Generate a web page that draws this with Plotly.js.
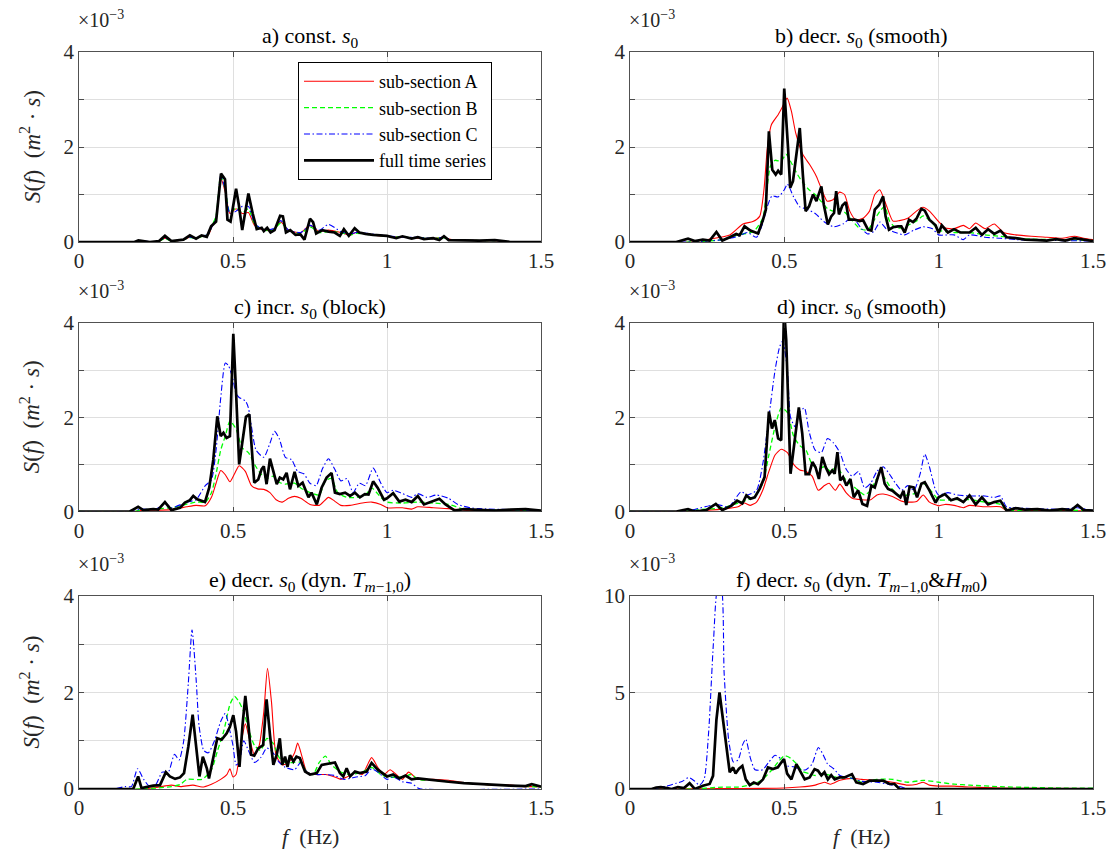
<!DOCTYPE html>
<html><head><meta charset="utf-8">
<script src="https://cdn.plot.ly/plotly-3.0.1.min.js"></script>
<style>html,body{margin:0;padding:0;background:#fff}#chart{width:1110px;height:852px}</style>
</head><body><div id="chart"></div>
<script>
// ---------------- data (f in Hz, S in 1e-3 m^2 s) ----------------
// panel a
const fa_sub = [0,0.18,0.2,0.23,0.26,0.28,0.3,0.34,0.36,0.38,0.4,0.42,0.43,0.445,0.46,0.475,0.49,0.51,0.53,0.55,0.57,0.6,0.63,0.655,0.68,0.72,0.75,0.78,0.81,0.85,0.88,0.9,0.95,1.0,1.05,1.1,1.15,1.18,1.21,1.25,1.3,1.35,1.38,1.4,1.5];
const Sa_A = [0,0,0.02,0.0,0.02,0.08,0.02,0.05,0.1,0.08,0.12,0.15,0.3,0.5,1.35,1.05,0.6,0.7,0.6,0.62,0.35,0.25,0.25,0.42,0.25,0.2,0.35,0.22,0.25,0.2,0.15,0.2,0.15,0.12,0.1,0.08,0.07,0.1,0.05,0.04,0.03,0.03,0.02,0,0];
const Sa_B = [0,0,0.02,0.0,0.02,0.07,0.02,0.05,0.09,0.08,0.12,0.16,0.32,0.55,1.4,1.1,0.62,0.72,0.62,0.7,0.38,0.25,0.25,0.4,0.25,0.18,0.32,0.2,0.22,0.2,0.15,0.18,0.15,0.12,0.1,0.09,0.07,0.09,0.05,0.04,0.03,0.03,0.02,0,0];
const Sa_C = [0,0,0.02,0.01,0.02,0.09,0.02,0.05,0.1,0.08,0.13,0.16,0.3,0.5,1.4,1.1,0.6,0.65,0.75,0.75,0.4,0.25,0.28,0.45,0.25,0.2,0.35,0.25,0.37,0.22,0.17,0.2,0.17,0.13,0.1,0.1,0.07,0.1,0.05,0.04,0.03,0.03,0.02,0,0];
const fa_F = [0,0.18,0.193,0.23,0.26,0.279,0.3,0.339,0.36,0.38,0.398,0.415,0.429,0.445,0.461,0.474,0.482,0.492,0.51,0.519,0.53,0.55,0.564,0.577,0.593,0.6,0.611,0.622,0.635,0.653,0.662,0.672,0.686,0.703,0.719,0.732,0.75,0.76,0.77,0.79,0.81,0.83,0.847,0.86,0.876,0.895,0.91,0.93,0.955,0.98,1.0,1.03,1.05,1.08,1.1,1.12,1.15,1.17,1.185,1.2,1.25,1.3,1.35,1.38,1.4,1.5];
const Sa_F = [0,0,0.035,0,0.02,0.13,0.02,0.05,0.14,0.07,0.14,0.11,0.33,0.43,1.44,1.32,0.47,0.43,1.12,0.78,0.25,1.02,0.6,0.27,0.3,0.23,0.3,0.2,0.25,0.55,0.54,0.2,0.25,0.15,0.16,0.05,0.49,0.42,0.18,0.25,0.22,0.2,0.13,0.27,0.13,0.29,0.2,0.17,0.15,0.14,0.13,0.08,0.12,0.07,0.1,0.06,0.08,0.04,0.12,0.04,0.03,0.03,0.04,0.02,0,0];

// panel b
const fb_A = [0,0.2,0.247,0.323,0.366,0.398,0.42,0.434,0.445,0.458,0.48,0.492,0.509,0.523,0.537,0.56,0.582,0.604,0.623,0.639,0.658,0.679,0.695,0.712,0.731,0.755,0.776,0.793,0.809,0.83,0.852,0.873,0.9,0.928,0.949,0.97,1.0,1.02,1.05,1.08,1.1,1.12,1.15,1.18,1.21,1.25,1.3,1.35,1.4,1.44,1.47,1.5];
const Sb_A = [0,0,0.05,0.15,0.38,0.43,0.54,1.1,1.98,2.47,2.68,2.82,3.03,2.75,2.29,1.84,1.63,1.38,1.07,0.86,0.89,1.05,1.0,0.65,0.47,0.5,0.65,1.0,1.1,0.78,0.44,0.45,0.5,0.65,0.73,0.65,0.43,0.3,0.28,0.35,0.28,0.4,0.28,0.38,0.2,0.15,0.12,0.1,0.08,0.12,0.08,0.05];
const fb_B = [0,0.2,0.3,0.35,0.4,0.43,0.445,0.455,0.47,0.49,0.505,0.52,0.54,0.56,0.58,0.6,0.62,0.64,0.66,0.68,0.7,0.72,0.745,0.77,0.79,0.81,0.825,0.84,0.86,0.88,0.9,0.93,0.95,0.98,1.0,1.05,1.1,1.15,1.2,1.25,1.3,1.4,1.5];
const Sb_B = [0,0,0.05,0.15,0.22,0.5,1.2,1.6,1.72,1.7,1.85,1.7,1.45,1.25,1.1,1.0,0.85,0.7,0.65,0.7,0.6,0.45,0.28,0.25,0.45,0.65,0.75,0.45,0.3,0.3,0.35,0.45,0.55,0.4,0.25,0.2,0.2,0.15,0.12,0.08,0.06,0.05,0.03];
const fb_C = [0,0.2,0.25,0.3,0.35,0.38,0.41,0.43,0.445,0.46,0.48,0.5,0.51,0.53,0.55,0.57,0.6,0.63,0.66,0.69,0.71,0.73,0.75,0.77,0.79,0.81,0.83,0.86,0.89,0.92,0.95,0.98,1.0,1.05,1.08,1.1,1.15,1.2,1.25,1.3,1.4,1.5];
const Sb_C = [0,0,0.02,0.05,0.12,0.2,0.1,0.4,0.75,0.97,0.95,1.1,1.22,0.95,0.74,0.7,0.6,0.42,0.32,0.38,0.48,0.45,0.28,0.17,0.22,0.42,0.28,0.2,0.15,0.25,0.32,0.28,0.15,0.15,0.05,0.15,0.1,0.08,0.05,0.04,0.03,0.02];
const fb_F = [0,0.15,0.188,0.21,0.236,0.258,0.28,0.299,0.323,0.344,0.355,0.371,0.39,0.415,0.431,0.44,0.45,0.461,0.472,0.48,0.49,0.4997,0.512,0.519,0.528,0.55,0.56,0.569,0.58,0.593,0.604,0.62,0.628,0.641,0.652,0.661,0.668,0.677,0.688,0.699,0.709,0.728,0.744,0.755,0.771,0.782,0.793,0.807,0.82,0.828,0.839,0.852,0.868,0.879,0.89,0.904,0.917,0.928,0.944,0.955,0.97,0.99,1.0,1.01,1.03,1.05,1.07,1.1,1.12,1.14,1.16,1.18,1.2,1.22,1.25,1.28,1.32,1.35,1.38,1.41,1.44,1.47,1.5];
const Sb_F = [0,0,0.07,0.02,0.05,0.03,0.21,0.03,0.1,0.17,0.14,0.33,0.24,0.18,0.47,0.68,2.33,1.52,1.42,1.5,1.42,3.23,1.98,1.14,1.28,2.4,1.42,0.65,0.75,1.0,0.86,1.17,0.78,0.37,0.54,0.61,1.07,0.58,0.77,0.84,0.47,0.47,0.44,0.46,0.26,0.24,0.68,0.78,0.96,0.54,0.26,0.31,0.33,0.33,0.2,0.47,0.42,0.49,0.7,0.66,0.47,0.35,0.19,0.35,0.2,0.27,0.2,0.2,0.3,0.15,0.27,0.17,0.24,0.1,0.08,0.05,0.04,0.03,0.06,0.03,0.08,0.05,0.02];

// panel c
const fc_A = [0,0.18,0.2,0.3,0.35,0.38,0.41,0.43,0.445,0.46,0.475,0.49,0.505,0.52,0.54,0.56,0.58,0.6,0.62,0.64,0.66,0.68,0.7,0.72,0.75,0.78,0.81,0.83,0.85,0.88,0.92,0.95,0.98,1.0,1.05,1.08,1.1,1.15,1.2,1.25,1.3,1.5];
const Sc_A = [0,0,0.02,0.04,0.1,0.13,0.12,0.3,0.6,0.87,0.78,0.63,0.8,0.97,0.85,0.55,0.48,0.47,0.4,0.25,0.2,0.28,0.32,0.28,0.15,0.13,0.3,0.22,0.13,0.13,0.18,0.2,0.15,0.08,0.08,0.05,0.1,0.08,0.06,0.03,0.02,0.02];
const fc_B = [0,0.18,0.2,0.3,0.38,0.41,0.43,0.445,0.46,0.475,0.49,0.51,0.53,0.55,0.57,0.59,0.61,0.63,0.65,0.67,0.7,0.72,0.75,0.78,0.8,0.82,0.84,0.87,0.9,0.93,0.95,0.98,1.0,1.05,1.1,1.15,1.2,1.25,1.3,1.4,1.5];
const Sc_B = [0,0,0.03,0.08,0.2,0.2,0.4,0.8,1.3,1.6,1.92,1.75,1.35,1.25,1.0,0.8,0.7,0.75,0.62,0.58,0.6,0.5,0.4,0.35,0.65,0.7,0.4,0.3,0.3,0.35,0.5,0.3,0.2,0.18,0.2,0.18,0.15,0.05,0.04,0.03,0.02];
const fc_C = [0,0.17,0.2,0.25,0.28,0.3,0.35,0.38,0.41,0.43,0.445,0.46,0.475,0.485,0.5,0.51,0.52,0.54,0.55,0.56,0.575,0.6,0.62,0.635,0.65,0.67,0.69,0.71,0.73,0.75,0.77,0.79,0.81,0.83,0.85,0.87,0.89,0.91,0.93,0.955,0.98,1.0,1.02,1.05,1.08,1.1,1.13,1.16,1.2,1.23,1.27,1.3,1.4,1.5];
const Sc_C = [0,0,0.05,0.05,0.18,0.08,0.2,0.25,0.55,0.67,1.3,2.4,3.15,3.1,2.8,2.5,2.42,2.35,2.2,1.8,1.3,1.15,1.45,1.7,1.55,1.15,1.1,0.85,0.8,0.6,0.55,0.9,1.12,0.9,0.65,0.7,0.4,0.6,0.55,0.92,0.6,0.4,0.45,0.38,0.3,0.38,0.3,0.35,0.28,0.15,0.08,0.06,0.04,0.02];
const fc_F = [0,0.165,0.192,0.209,0.241,0.257,0.279,0.3,0.328,0.344,0.36,0.371,0.384,0.409,0.423,0.436,0.449,0.46,0.469,0.479,0.49,0.501,0.51,0.52,0.531,0.542,0.553,0.56,0.569,0.582,0.593,0.6,0.609,0.62,0.631,0.642,0.652,0.663,0.674,0.685,0.7,0.712,0.726,0.745,0.755,0.772,0.788,0.804,0.82,0.831,0.847,0.864,0.88,0.896,0.912,0.928,0.94,0.955,0.97,0.99,1.0,1.02,1.04,1.06,1.08,1.1,1.12,1.15,1.17,1.19,1.22,1.25,1.3,1.35,1.4,1.45,1.5];
const Sc_F = [0,0,0.1,0.03,0.05,0.04,0.2,0.03,0.08,0.19,0.24,0.33,0.26,0.2,0.51,1.1,2.02,1.6,1.67,1.56,1.6,3.77,2.52,1.0,1.5,2.01,2.06,1.32,0.61,0.68,0.9,0.96,0.58,1.12,0.86,0.58,0.72,0.68,0.82,0.47,0.84,0.54,0.61,0.3,0.4,0.15,0.51,0.72,0.82,0.4,0.37,0.4,0.33,0.4,0.3,0.37,0.36,0.64,0.5,0.25,0.28,0.39,0.21,0.25,0.2,0.33,0.15,0.22,0.27,0.15,0.02,0.05,0.04,0.02,0.04,0.05,0.02];

// panel d
const fd_A = [0,0.18,0.2,0.3,0.35,0.37,0.39,0.41,0.43,0.45,0.47,0.49,0.51,0.53,0.55,0.57,0.59,0.61,0.63,0.645,0.665,0.68,0.7,0.72,0.75,0.78,0.8,0.82,0.85,0.88,0.9,0.93,0.95,0.97,1.0,1.02,1.05,1.08,1.1,1.15,1.2,1.22,1.3,1.4,1.5];
const Sd_A = [0,0,0.01,0.05,0.1,0.18,0.13,0.2,0.45,0.85,1.2,1.32,1.25,1.0,0.88,0.85,0.75,0.45,0.55,0.6,0.45,0.58,0.4,0.28,0.25,0.25,0.35,0.37,0.32,0.22,0.2,0.22,0.35,0.2,0.12,0.15,0.13,0.08,0.13,0.1,0.1,0.02,0.02,0.02,0.01];
const fd_B = [0,0.18,0.2,0.3,0.36,0.4,0.43,0.45,0.47,0.49,0.51,0.53,0.55,0.57,0.59,0.61,0.63,0.65,0.67,0.69,0.71,0.73,0.76,0.78,0.8,0.82,0.84,0.87,0.9,0.93,0.95,0.98,1.0,1.05,1.1,1.15,1.2,1.22,1.3,1.4,1.5];
const Sd_B = [0,0,0.03,0.08,0.2,0.3,0.6,1.2,1.8,2.2,2.1,1.6,1.4,1.3,1.0,0.9,0.95,0.85,0.95,0.75,0.6,0.5,0.35,0.45,0.7,0.75,0.55,0.35,0.35,0.4,0.6,0.4,0.25,0.25,0.25,0.2,0.15,0.03,0.03,0.03,0.02];
const fd_C = [0,0.17,0.2,0.28,0.32,0.36,0.38,0.41,0.43,0.45,0.47,0.485,0.495,0.51,0.52,0.535,0.55,0.565,0.58,0.6,0.62,0.64,0.66,0.68,0.7,0.72,0.74,0.76,0.78,0.8,0.82,0.84,0.86,0.88,0.9,0.92,0.94,0.955,0.97,0.99,1.0,1.03,1.06,1.1,1.15,1.18,1.2,1.22,1.25,1.3,1.4,1.45,1.5];
const Sd_C = [0,0,0.03,0.15,0.1,0.42,0.35,0.45,1.0,2.0,3.0,3.5,3.62,3.0,2.0,1.8,2.1,2.2,1.7,1.3,1.25,1.55,1.45,1.25,0.9,0.75,0.85,0.5,0.6,0.85,0.95,0.8,0.6,0.45,0.55,0.45,0.8,1.22,0.95,0.45,0.35,0.4,0.35,0.33,0.33,0.3,0.33,0.1,0.08,0.06,0.05,0.08,0.02];
const fd_F = [0,0.15,0.188,0.21,0.247,0.278,0.299,0.328,0.347,0.364,0.377,0.39,0.404,0.42,0.436,0.45,0.46,0.469,0.48,0.49,0.499,0.506,0.52,0.53,0.547,0.558,0.569,0.58,0.591,0.601,0.612,0.623,0.634,0.645,0.655,0.663,0.672,0.681,0.69,0.701,0.714,0.725,0.739,0.753,0.768,0.782,0.793,0.803,0.814,0.825,0.836,0.85,0.863,0.876,0.886,0.895,0.906,0.919,0.93,0.944,0.955,0.97,0.99,1.0,1.02,1.04,1.06,1.08,1.1,1.12,1.14,1.16,1.18,1.2,1.22,1.25,1.28,1.32,1.36,1.4,1.43,1.45,1.47,1.5];
const Sd_F = [0,0,0.05,0,0.03,0.16,0.03,0.12,0.23,0.17,0.34,0.27,0.3,0.48,0.73,2.12,1.76,1.94,1.55,1.51,4.3,3.65,0.8,1.37,2.21,1.66,0.79,0.79,1.05,0.94,0.69,1.16,0.94,0.79,0.87,0.8,1.26,0.66,0.73,0.55,0.69,0.3,0.45,0.16,0.12,0.55,0.51,0.73,0.94,0.59,0.48,0.44,0.37,0.3,0.44,0.14,0.53,0.51,0.3,0.59,0.62,0.45,0.19,0.3,0.37,0.24,0.28,0.2,0.34,0.15,0.3,0.15,0.2,0.23,0.02,0.07,0.04,0.05,0.02,0.05,0.03,0.14,0.03,0.02];

// panel e
const fe_A = [0,0.2,0.25,0.3,0.33,0.37,0.4,0.43,0.46,0.48,0.49,0.5,0.51,0.525,0.54,0.555,0.57,0.585,0.6,0.612,0.625,0.64,0.66,0.68,0.7,0.71,0.725,0.74,0.77,0.8,0.83,0.85,0.87,0.9,0.92,0.95,0.97,0.99,1.01,1.03,1.05,1.07,1.1,1.15,1.2,1.25,1.3,1.35,1.4,1.45,1.5];
const Se_A = [0,0,0.03,0.08,0.05,0.08,0.04,0.1,0.2,0.3,0.42,0.25,0.3,0.9,1.35,1.0,0.7,0.9,1.6,2.5,1.8,0.7,0.5,0.55,0.75,0.95,0.65,0.35,0.3,0.3,0.25,0.2,0.25,0.35,0.3,0.65,0.45,0.3,0.4,0.3,0.2,0.35,0.2,0.2,0.18,0.13,0.1,0.08,0.08,0.05,0.05];
const fe_B = [0,0.2,0.25,0.3,0.33,0.35,0.4,0.43,0.45,0.47,0.49,0.505,0.52,0.535,0.55,0.57,0.59,0.61,0.63,0.65,0.67,0.7,0.72,0.74,0.76,0.78,0.8,0.82,0.85,0.88,0.92,0.95,0.98,1.0,1.05,1.08,1.1,1.15,1.2,1.3,1.4,1.5];
const Se_B = [0,0,0.02,0.05,0.1,0.2,0.2,0.4,0.8,1.2,1.75,1.92,1.8,1.6,1.25,0.9,0.8,1.05,0.95,0.65,0.55,0.55,0.55,0.35,0.3,0.55,0.68,0.5,0.35,0.3,0.35,0.45,0.3,0.25,0.25,0.3,0.2,0.18,0.15,0.1,0.07,0.04];
const fe_C = [0,0.12,0.15,0.17,0.19,0.21,0.23,0.25,0.27,0.29,0.31,0.325,0.34,0.355,0.367,0.38,0.39,0.405,0.42,0.44,0.46,0.475,0.49,0.5,0.51,0.52,0.535,0.55,0.57,0.59,0.61,0.63,0.65,0.67,0.7,0.72,0.74,0.77,0.8,0.83,0.86,0.9,0.93,0.95,0.97,1.0,1.02,1.05,1.08,1.1,1.11,1.5];
const Se_C = [0,0.01,0.05,0.05,0.42,0.2,0.05,0.1,0.35,0.35,0.72,0.6,1.0,2.2,3.3,2.3,1.3,0.8,0.75,1.0,1.4,1.57,1.2,0.9,0.5,0.55,1.0,0.8,0.55,0.65,0.85,0.75,0.55,0.45,0.4,0.55,0.35,0.3,0.3,0.28,0.2,0.25,0.28,0.42,0.35,0.2,0.25,0.15,0.12,0.02,0,0];
const fe_F = [0,0.176,0.192,0.203,0.241,0.263,0.282,0.295,0.312,0.328,0.341,0.355,0.369,0.377,0.391,0.402,0.415,0.422,0.436,0.449,0.463,0.479,0.49,0.501,0.51,0.521,0.531,0.54,0.55,0.559,0.569,0.582,0.598,0.609,0.62,0.631,0.642,0.652,0.66,0.669,0.677,0.685,0.696,0.706,0.717,0.734,0.75,0.772,0.788,0.809,0.831,0.847,0.858,0.869,0.88,0.896,0.912,0.934,0.95,0.97,0.99,1.0,1.02,1.04,1.06,1.08,1.1,1.15,1.2,1.25,1.3,1.35,1.4,1.45,1.47,1.5];
const Se_F = [0,0,0.26,0.02,0.07,0.08,0.35,0.26,0.21,0.24,0.33,0.88,1.54,1.12,0.26,0.67,0.43,0.22,0.64,1.05,1.02,1.15,1.29,1.53,1.19,0.46,1.33,1.93,1.33,0.71,0.69,0.84,0.91,1.86,1.12,0.5,0.71,1.05,0.5,0.67,0.46,0.7,0.57,0.67,0.64,0.36,0.3,0.33,0.5,0.53,0.55,0.33,0.26,0.43,0.26,0.36,0.33,0.36,0.54,0.4,0.3,0.26,0.3,0.22,0.28,0.2,0.22,0.18,0.15,0.12,0.1,0.08,0.07,0.06,0.1,0.05];

// panel f
const ff_A = [0,0.3,0.5,0.55,0.6,0.63,0.65,0.68,0.72,0.75,0.8,0.85,0.9,0.93,0.95,0.97,1.0,1.05,1.1,1.2,1.3,1.5];
const Sf_A = [0,0.02,0.05,0.1,0.2,0.35,0.25,0.45,0.55,0.5,0.45,0.35,0.2,0.25,0.35,0.2,0.15,0.15,0.1,0.05,0.03,0.02];
const ff_B = [0,0.2,0.3,0.35,0.4,0.43,0.46,0.48,0.5,0.52,0.54,0.56,0.58,0.6,0.62,0.65,0.68,0.7,0.73,0.75,0.8,0.85,0.9,0.95,1.0,1.05,1.1,1.2,1.3,1.4,1.5];
const Sf_B = [0,0,0.1,0.1,0.25,0.5,1.0,1.4,1.72,1.6,1.3,0.9,0.8,0.7,0.8,0.7,0.55,0.6,0.5,0.35,0.5,0.5,0.35,0.45,0.35,0.25,0.2,0.12,0.08,0.05,0.05];
const ff_C = [0,0.08,0.1,0.12,0.15,0.17,0.19,0.21,0.225,0.24,0.255,0.27,0.285,0.295,0.305,0.32,0.335,0.35,0.365,0.375,0.39,0.405,0.43,0.45,0.47,0.49,0.51,0.53,0.55,0.57,0.59,0.61,0.625,0.64,0.66,0.68,0.7,0.72,0.75,0.8,0.85,0.88,0.9,1.5];
const Sf_C = [0,0,0.1,0.15,0.3,0.4,0.6,0.4,0.2,0.5,3.0,7.5,10.5,10.5,6.0,2.5,1.4,1.5,2.3,2.58,1.6,1.0,1.0,1.4,1.75,1.55,1.2,1.15,1.0,1.0,1.3,2.15,1.8,1.3,1.05,0.7,0.6,0.55,0.4,0.35,0.2,0.1,0,0];
const ff_F = [0,0.07,0.085,0.1,0.12,0.135,0.155,0.175,0.193,0.21,0.236,0.258,0.269,0.28,0.29,0.301,0.312,0.323,0.334,0.342,0.353,0.364,0.375,0.388,0.401,0.415,0.431,0.447,0.463,0.479,0.49,0.499,0.509,0.523,0.539,0.552,0.566,0.582,0.598,0.609,0.62,0.63,0.641,0.652,0.663,0.679,0.695,0.706,0.719,0.733,0.755,0.776,0.798,0.82,0.841,0.857,0.873,0.89,1.5];
const Sf_F = [0,0,0.08,0.1,0.05,0,0.1,0.05,0.3,0,0.17,0.26,0.68,3.6,5.0,3.6,2.06,0.87,1.12,0.8,1.05,1.2,0.5,0.2,0.34,0.25,0.5,1.12,1.03,1.12,1.37,1.55,0.8,0.5,1.29,0.87,0.5,0.6,1.03,0.95,0.7,0.87,0.5,0.72,0.5,0.6,0.6,0.68,0.77,0.34,0.26,0.43,0.43,0.43,0.26,0.26,0,0,0];

const seriesNames = ['sub-section A','sub-section B','sub-section C','full time series'];
const xTickVals = [0, 0.5, 1, 1.5];
const xTickText = ['0', '0.5', '1', '1.5'];
const yTickVals4 = [0, 2, 4];
const yMinor4 = [1, 3];
const yTickVals10 = [0, 5, 10];

const s0 = '<i>s</i><sub>0</sub>';
const Tm = '<i>T</i><sub><i>m</i>\u22121,0</sub>';
const panels = [
  {title: 'a) const. ' + s0, d: [[fa_sub,Sa_A],[fa_sub,Sa_B],[fa_sub,Sa_C],[fa_F,Sa_F]], ymax: 4},
  {title: 'b) decr. ' + s0 + ' (smooth)', d: [[fb_A,Sb_A],[fb_B,Sb_B],[fb_C,Sb_C],[fb_F,Sb_F]], ymax: 4},
  {title: 'c) incr. ' + s0 + ' (block)', d: [[fc_A,Sc_A],[fc_B,Sc_B],[fc_C,Sc_C],[fc_F,Sc_F]], ymax: 4},
  {title: 'd) incr. ' + s0 + ' (smooth)', d: [[fd_A,Sd_A],[fd_B,Sd_B],[fd_C,Sd_C],[fd_F,Sd_F]], ymax: 4},
  {title: 'e) decr. ' + s0 + ' (dyn. ' + Tm + ')', d: [[fe_A,Se_A],[fe_B,Se_B],[fe_C,Se_C],[fe_F,Se_F]], ymax: 4},
  {title: 'f) decr. ' + s0 + ' (dyn. ' + Tm + '&amp;<i>H</i><sub><i>m</i>0</sub>)', d: [[ff_A,Sf_A],[ff_B,Sf_B],[ff_C,Sf_C],[ff_F,Sf_F]], ymax: 10}
];

// ---------------- styling / layout ----------------
const W = 1110, H = 852;
const FONT = '"Liberation Serif", "Times New Roman", serif';
const styles = [
  {color: '#ff0000', width: 1.1, dash: 'solid', shape: 'spline'},
  {color: '#00ff00', width: 1.3, dash: '5px,3px', shape: 'spline'},
  {color: '#0000ff', width: 1.1, dash: '6px,2.5px,1.5px,2.5px', shape: 'spline'},
  {color: '#000000', width: 2.7, dash: 'solid', shape: 'linear'}
];
const colsPx = [[79, 541], [630, 1093]];
const rowsPx = [[52, 242], [323, 511.5], [596, 789]];
const px2x = p => p / W;
const px2y = p => 1 - p / H;

const traces = [];
const layout = {
  width: W, height: H,
  margin: {l: 0, r: 0, t: 0, b: 0},
  paper_bgcolor: '#ffffff', plot_bgcolor: '#ffffff',
  font: {family: FONT, size: 20, color: '#262626'},
  showlegend: true,
  legend: {
    x: px2x(298), y: px2y(62), xanchor: 'left', yanchor: 'top',
    bgcolor: '#ffffff', bordercolor: '#000000', borderwidth: 1,
    font: {family: FONT, size: 18, color: '#000000'},
    itemwidth: 70, tracegroupgap: 0
  },
  annotations: []
};

panels.forEach((p, i) => {
  const r = Math.floor(i / 2), c = i % 2;
  const ax = i === 0 ? '' : String(i + 1);
  p.d.forEach((xy, k) => {
    const st = styles[k];
    traces.push({
      type: 'scatter', mode: 'lines',
      x: xy[0], y: xy[1],
      xaxis: 'x' + ax, yaxis: 'y' + ax,
      name: seriesNames[k],
      showlegend: i === 0,
      line: {color: st.color, width: st.width, dash: st.dash, shape: st.shape, smoothing: 0.6},
      hoverinfo: 'skip'
    });
  });
  const axCommon = {
    showline: true, linecolor: '#262626', linewidth: 0.8, mirror: 'ticks',
    ticks: 'inside', ticklen: 5, tickwidth: 0.8, tickcolor: '#262626',
    showgrid: true, gridcolor: '#dfdfdf', gridwidth: 1, zeroline: false,
    tickfont: {family: FONT, size: 21, color: '#262626'}, fixedrange: true
  };
  layout['xaxis' + ax] = Object.assign({}, axCommon, {
    domain: [px2x(colsPx[c][0]), px2x(colsPx[c][1])],
    range: [0, 1.5], anchor: 'y' + ax,
    tickmode: 'array', tickvals: xTickVals, ticktext: xTickText
  });
  const yax = Object.assign({}, axCommon, {
    domain: [px2y(rowsPx[r][1]), px2y(rowsPx[r][0])],
    range: [0, p.ymax], anchor: 'x' + ax,
    tickmode: 'array',
    tickvals: p.ymax === 10 ? yTickVals10 : yTickVals4
  });
  if (p.ymax !== 10) {
    yax.minor = {tickmode: 'array', tickvals: yMinor4, ticks: 'inside', ticklen: 5,
                 tickwidth: 0.8, tickcolor: '#262626', showgrid: true, gridcolor: '#dfdfdf', gridwidth: 1};
  }
  layout['yaxis' + ax] = yax;
  const cx = (colsPx[c][0] + colsPx[c][1]) / 2;
  layout.annotations.push({
    xref: 'paper', yref: 'paper', x: px2x(cx), y: px2y(rowsPx[r][0] + 1),
    xanchor: 'center', yanchor: 'bottom', showarrow: false,
    text: p.title, font: {family: FONT, size: 22, color: '#000000'}
  });
  layout.annotations.push({
    xref: 'paper', yref: 'paper', x: px2x(colsPx[c][0] - 3), y: px2y(rowsPx[r][0] - 19),
    xanchor: 'left', yanchor: 'bottom', showarrow: false,
    text: '\u00d710<sup>\u22123</sup>', font: {family: FONT, size: 20, color: '#262626'}
  });
  if (c === 0) {
    layout.annotations.push({
      xref: 'paper', yref: 'paper', x: px2x(30), y: px2y((rowsPx[r][0] + rowsPx[r][1]) / 2),
      xanchor: 'center', yanchor: 'middle', showarrow: false, textangle: -90,
      text: '<i>S</i>(<i>f</i>)  (<i>m</i><sup>2</sup> \u00b7 <i>s</i>)',
      font: {family: FONT, size: 23, color: '#262626'}
    });
  }
  if (r === 2) {
    layout.annotations.push({
      xref: 'paper', yref: 'paper', x: px2x(cx), y: px2y(836),
      xanchor: 'center', yanchor: 'middle', showarrow: false,
      text: '<i>f</i>  (Hz)', font: {family: FONT, size: 22, color: '#262626'}
    });
  }
});

Plotly.newPlot('chart', traces, layout, {displayModeBar: false, staticPlot: true});
</script></body></html>
